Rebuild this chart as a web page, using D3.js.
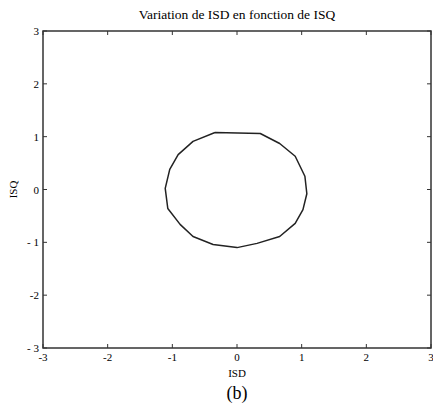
<!DOCTYPE html>
<html><head><meta charset="utf-8">
<script src="https://cdn.jsdelivr.net/npm/d3@7"></script>
<style>body{margin:0;background:#fff}svg{display:block}text{font-family:"Liberation Serif","Times New Roman",serif;fill:#000}</style>
</head><body>
<script>
const titleText = "Variation de ISD en fonction de ISQ";
const xLabel = "ISD", yLabel = "ISQ", caption = "(b)";
const xTicks = [-3,-2,-1,0,1,2,3];
const xTickLabels = ["-3","-2","-1","0","1","2","3"];
const yTicks = [-3,-2,-1,0,1,2,3];
const yTickLabels = ["- 3","-2","- 1","0","1","2","3"];
const isd = [-0.34,0.36,0.66,0.90,1.05,1.08,1.02,0.90,0.66,0.31,0.0,-0.37,-0.68,-0.88,-1.07,-1.11,-1.04,-0.91,-0.68,-0.34];
const isq = [1.08,1.06,0.87,0.63,0.25,-0.08,-0.38,-0.64,-0.89,-1.02,-1.10,-1.04,-0.89,-0.66,-0.36,0.02,0.38,0.66,0.91,1.08];

const W=433,H=407;
const L=43,R=431,T=31,B=348;
const svg=d3.select("body").append("svg").attr("width",W).attr("height",H);
const x=d3.scaleLinear().domain([-3,3]).range([L,R]);
const y=d3.scaleLinear().domain([-3,3]).range([B,T]);

const tl=4;
const g=svg.append("g").attr("stroke","#333").attr("stroke-width",1);
xTicks.forEach(v=>{
  g.append("line").attr("x1",x(v)).attr("x2",x(v)).attr("y1",B).attr("y2",B-tl);
  g.append("line").attr("x1",x(v)).attr("x2",x(v)).attr("y1",T).attr("y2",T+tl);
});
yTicks.forEach(v=>{
  g.append("line").attr("y1",y(v)).attr("y2",y(v)).attr("x1",L).attr("x2",L+tl);
  g.append("line").attr("y1",y(v)).attr("y2",y(v)).attr("x1",R).attr("x2",R-tl);
});
svg.append("rect").attr("x",L).attr("y",T).attr("width",R-L).attr("height",B-T)
  .attr("fill","none").attr("stroke","#333").attr("stroke-width",1.5);

xTicks.forEach((v,i)=>{
  svg.append("text").attr("x",x(v)).attr("y",B+13).attr("text-anchor","middle")
    .attr("font-size",11).text(xTickLabels[i]);
});
yTicks.forEach((v,i)=>{
  svg.append("text").attr("x",L-4).attr("y",y(v)+4).attr("text-anchor","end")
    .attr("font-size",11).text(yTickLabels[i]);
});

const line=d3.line().x((d,i)=>x(isd[i])).y((d,i)=>y(isq[i]));
svg.append("path").datum(isd).attr("d",line).attr("fill","none")
  .attr("stroke","#222").attr("stroke-width",1.5).attr("stroke-linejoin","round");

svg.append("text").attr("x",237).attr("y",19).attr("text-anchor","middle").attr("font-size",13.5).text(titleText);
svg.append("text").attr("x",237).attr("y",377).attr("text-anchor","middle").attr("font-size",11).text(xLabel);
svg.append("text").attr("transform","translate(17,"+y(0)+") rotate(-90)").attr("text-anchor","middle").attr("font-size",11).text(yLabel);
svg.append("text").attr("x",237).attr("y",399).attr("text-anchor","middle").attr("font-size",18).text(caption);
</script>
</body></html>
